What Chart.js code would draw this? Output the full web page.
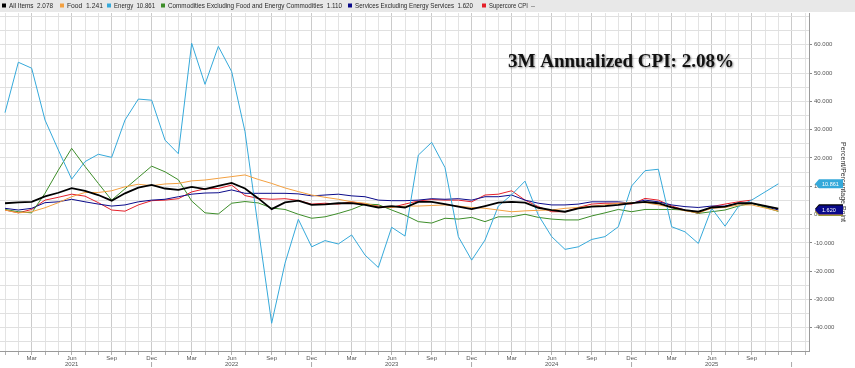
<!DOCTYPE html>
<html>
<head>
<meta charset="utf-8">
<script src="https://cdn.jsdelivr.net/npm/chart.js@4.4.0/dist/chart.umd.min.js"></script>
<style>
  html, body { margin: 0; padding: 0; background: #fff; overflow: hidden; }
  #wrap { position: relative; width: 855px; height: 368px; }
</style>
</head>
<body>
<div id="wrap"><canvas id="cpi-chart" width="855" height="368"></canvas></div>
<script>
// ── DATA ───────────────────────────────────────────────────────
// monthly points, index 0 = Jan 2021 ... index 58 = Nov 2025 (Oct 2025 missing)
const startYear = 2021;
const monthNames = ['Jan','Feb','Mar','Apr','May','Jun','Jul','Aug','Sep','Oct','Nov','Dec'];

const allItems = [4.0, 4.3, 4.5, 6.4, 7.7, 9.3, 8.4, 6.9, 4.9, 7.5, 9.5, 10.5, 9.2, 8.7, 9.8, 9.0, 10.1, 11.2, 9.2, 5.7,
  1.9, 4.3, 4.9, 3.4, 3.6, 4.0, 4.0, 3.4, 2.5, 3.0, 2.5, 4.5, 4.5, 3.7, 2.8, 1.9, 3.0, 4.2, 4.5, 4.2,
  2.4, 1.6, 1.0, 2.2, 2.8, 3.0, 3.4, 4.0, 4.5, 4.0, 2.5, 1.6, 1.0, 2.5, 2.8, 4.0, 4.0, null, 2.078];

const food = [1.6, 0.6, 1.0, 2.4, 4.2, 6.3, 7.8, 7.8, 8.4, 9.8, 10.7, 10.2, 10.8, 11.0, 11.9, 12.2, 12.8, 13.4, 14.0, 12.4,
  11.0, 9.4, 8.1, 6.9, 6.1, 5.4, 4.5, 4.0, 2.8, 2.5, 3.0, 3.0, 3.2, 3.4, 3.0, 2.5, 2.2, 1.6, 1.0, 1.3,
  1.5, 1.6, 2.2, 2.5, 3.0, 3.4, 4.0, 4.2, 4.2, 3.4, 2.5, 1.3, 0.6, 2.2, 2.5, 3.4, 3.4, null, 1.241];

const energy = [36.0, 53.8, 51.7, 33.4, 22.8, 12.5, 18.7, 21.3, 20.2, 33.4, 40.8, 40.4, 26.3, 21.5, 60.5, 46.0, 59.4, 50.5, 29.3, -5.0,
  -38.4, -17.2, -1.7, -11.4, -9.2, -10.4, -7.2, -14.3, -18.7, -4.5, -7.6, 21.0, 25.5, 16.6, -7.8, -16.1, -9.0, 3.0, 7.0, 11.8,
  -0.2, -7.8, -12.3, -11.4, -8.8, -7.8, -4.3, 10.1, 15.5, 16.0, -4.3, -6.1, -10.2, 2.2, -4.1, 2.8, 5.1, null, 10.861];

const coreGoods = [1.8, 1.0, 0.6, 7.5, 15.7, 23.4, 17.0, 11.0, 5.1, 9.1, 13.1, 17.1, 15.1, 12.3, 4.8, 0.6, 0.2, 4.0, 4.6, 4.1,
  2.3, 1.8, 0.1, -1.3, -0.8, 0.4, 1.8, 3.7, 3.5, 1.6, -0.2, -2.5, -3.0, -1.3, -1.6, -1.0, -2.5, -0.8, -0.8, 0.1,
  -1.0, -1.6, -1.9, -1.9, -0.5, 0.6, 1.8, 1.0, 1.8, 1.8, 1.8, 1.6, 0.4, 1.0, 1.6, 3.0, 4.0, null, 1.110];

const coreServices = [2.2, 1.6, 2.2, 4.2, 4.5, 5.4, 4.5, 3.7, 3.0, 3.4, 4.5, 5.1, 5.4, 6.3, 7.2, 7.6, 7.7, 8.7, 7.5, 7.5,
  7.5, 7.5, 7.3, 6.6, 6.9, 7.2, 6.6, 6.3, 5.1, 4.9, 4.9, 5.1, 5.6, 5.4, 5.6, 5.1, 6.3, 6.3, 6.9, 5.1,
  4.0, 3.4, 3.4, 3.7, 4.5, 4.5, 4.5, 4.0, 5.1, 4.5, 3.4, 2.8, 2.5, 3.0, 3.0, 4.0, 4.0, null, 1.620];

const supercore = [1.6, 0.6, 1.8, 5.1, 6.1, 7.2, 6.5, 4.2, 1.6, 1.2, 3.4, 4.9, 5.1, 5.6, 8.0, 9.1, 9.2, 10.4, 6.7, 5.7,
  5.4, 5.6, 5.0, 3.7, 4.0, 3.7, 4.5, 3.7, 3.0, 2.5, 3.7, 4.8, 5.3, 5.1, 5.1, 4.5, 6.9, 7.2, 8.4, 5.1,
  2.8, 1.0, 1.0, 2.5, 3.7, 4.0, 4.0, 3.7, 5.7, 5.1, 3.0, 1.6, 0.4, 2.8, 3.7, 4.5, 5.1, null, null];

const seriesNames = ['All Items', 'Food', 'Energy', 'Commodities Excluding Food and Energy Commodities',
  'Services Excluding Energy Services', 'Supercore CPI'];
const seriesLast = ['2.078', '1.241', '10.861', '1.110', '1.620', '--'];
const seriesColors = ['#000000', '#f3a040', '#35a9da', '#3d8d29', '#0a0a8a', '#e5202a'];
const seriesData = [allItems, food, energy, coreGoods, coreServices, supercore];

const yTickValues = [-40, -30, -20, -10, 0, 10, 20, 30, 40, 50, 60];
const headline = '3M Annualized CPI: 2.08%';
const axisTitle = 'Percent/Percentage Point';

// ── HELPERS ────────────────────────────────────────────────────
const FONT = '"Liberation Sans", Arial, sans-serif';
const toPoints = arr => arr.map((v, i) => ({ x: i, y: v }));

function monthLabel(i) {
  const m = ((i % 12) + 12) % 12;
  const yr = startYear + Math.floor(i / 12);
  if (m === 2 || m === 8) return monthNames[m];
  if (m === 5) return [monthNames[m], String(yr)];
  if (m === 11) return i < 59 ? [monthNames[m], '|'] : ['', '|'];
  return '';
}

// legend strip, headline text and last-value boxes
const overlay = {
  id: 'overlay',
  beforeDraw(chart) {
    const { ctx } = chart;
    ctx.save();
    ctx.fillStyle = '#e8e8e8';
    ctx.fillRect(0, 0, chart.width, 12);
    ctx.restore();
  },
  afterDraw(chart) {
    const { ctx, chartArea } = chart;
    const yScale = chart.scales.y;
    ctx.save();

    // legend
    const legendX = [2, 60, 107, 161, 348, 482];
    const legendW = [44, 36, 41, 174, 118, 46];
    ctx.font = '7.5px ' + FONT;
    ctx.textBaseline = 'middle';
    seriesNames.forEach((name, i) => {
      ctx.fillStyle = seriesColors[i];
      ctx.fillRect(legendX[i], 3.5, 4, 4);
      ctx.fillStyle = '#2a2a2a';
      ctx.fillText(name + '  ' + seriesLast[i], legendX[i] + 7, 6, legendW[i]);
    });

    // headline
    ctx.font = 'bold 19px "Liberation Serif", "Times New Roman", serif';
    ctx.textBaseline = 'alphabetic';
    ctx.shadowColor = 'rgba(0,0,0,0.45)';
    ctx.shadowBlur = 2;
    ctx.shadowOffsetX = 1;
    ctx.shadowOffsetY = 1;
    ctx.fillStyle = '#111';
    ctx.fillText(headline, 508, 66.5);
    ctx.shadowColor = 'transparent';

    // last value tags
    const order = [3, 1, 0, 4, 2];
    const x0 = chartArea.right + 3;
    ctx.font = '5.5px ' + FONT;
    ctx.textBaseline = 'middle';
    order.forEach(i => {
      const arr = seriesData[i];
      const v = arr[arr.length - 1];
      if (v == null) return;
      const y = yScale.getPixelForValue(v);
      ctx.fillStyle = seriesColors[i];
      ctx.beginPath();
      ctx.moveTo(x0 + 3, y);
      ctx.lineTo(x0 + 7, y - 4.5);
      ctx.lineTo(x0 + 31, y - 4.5);
      ctx.lineTo(x0 + 31, y + 4.5);
      ctx.lineTo(x0 + 7, y + 4.5);
      ctx.closePath();
      ctx.fill();
      ctx.fillStyle = '#fff';
      ctx.fillText(seriesLast[i], x0 + 10, y + 0.3);
    });
    ctx.restore();
  }
};

// ── CHART ──────────────────────────────────────────────────────
const datasets = seriesData.map((arr, i) => ({
  label: seriesNames[i],
  data: toPoints(arr),
  borderColor: seriesColors[i],
  backgroundColor: seriesColors[i],
  borderWidth: i === 0 ? 1.8 : 1,
  pointRadius: 0,
  tension: 0,
  spanGaps: true,
}));

new Chart(document.getElementById('cpi-chart'), {
  type: 'line',
  data: { datasets },
  options: {
    responsive: false,
    animation: false,
    layout: { padding: { top: 13, left: 0, right: 0, bottom: 0 } },
    plugins: { legend: { display: false }, tooltip: { enabled: false } },
    scales: {
      x: {
        type: 'linear',
        min: -0.375,
        max: 60.3,
        afterBuildTicks: s => { s.ticks = []; for (let i = 0; i <= 60; i++) s.ticks.push({ value: i }); },
        afterFit: s => { s.height = 17; },
        border: { color: '#9a9a9a' },
        grid: {
          color: c => (c.tick && c.tick.value % 3 === 2) ? '#cbcbcb' : '#e3e3e3',
          tickColor: '#b0b0b0',
          tickLength: 4,
        },
        ticks: {
          autoSkip: false,
          maxRotation: 0,
          padding: 0,
          color: '#555',
          font: { family: FONT, size: 6, lineHeight: 1.08 },
          callback: v => monthLabel(v),
        }
      },
      y: {
        position: 'right',
        min: -48.2,
        max: 71.2,
        afterBuildTicks: s => { s.ticks = []; for (let v = -45; v <= 70; v += 5) s.ticks.push({ value: v }); },
        afterFit: s => { s.width = 46; },
        border: { color: '#9a9a9a' },
        grid: {
          color: '#e0e0e0',
          tickColor: c => (c.tick && yTickValues.includes(c.tick.value)) ? '#888' : 'rgba(0,0,0,0)',
          tickLength: 3,
        },
        ticks: {
          autoSkip: false,
          padding: 2,
          color: '#555',
          font: { family: FONT, size: 6 },
          callback: v => yTickValues.includes(v) ? v.toFixed(3) : '',
        },
        title: {
          display: true,
          text: axisTitle,
          color: '#333',
          font: { family: FONT, size: 7 },
          padding: { top: 8, bottom: 0 },
        }
      }
    }
  },
  plugins: [overlay]
});
</script>
</body>
</html>
